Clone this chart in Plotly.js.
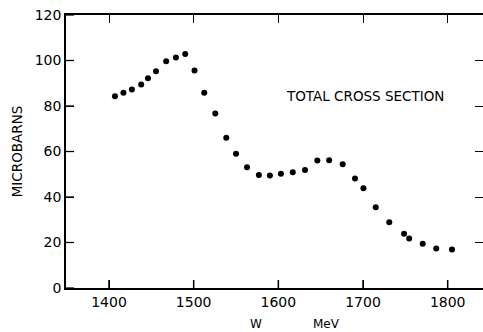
<!DOCTYPE html>
<html>
<head>
<meta charset="utf-8">
<script src="https://cdn.plot.ly/plotly-3.0.1.min.js"></script>
<style>html,body{margin:0;padding:0;background:#fff;}#chart{width:483px;height:332px;}</style>
</head>
<body>
<div id="chart"></div>
<script>
const energyMeV = [1407, 1417, 1427, 1438, 1446, 1455.5, 1467.5, 1479, 1490, 1501, 1512.5, 1525.5, 1538.5,
  1550, 1563, 1577, 1590, 1603, 1617, 1631.5, 1646, 1660, 1676, 1690.5, 1700.5, 1715, 1731, 1748.5, 1754.5, 1770.5, 1786.5, 1805];
const crossSection = [84.3, 85.8, 87.3, 89.4, 92.2, 95.3, 99.7, 101.3, 102.9, 95.6, 85.8, 76.7, 66,
  59, 53.1, 49.7, 49.4, 50.2, 50.9, 51.9, 56, 56.1, 54.4, 48.1, 43.8, 35.5, 28.9, 23.8, 21.8, 19.5, 17.4, 16.9];
const xTicks = [1400, 1500, 1600, 1700, 1800];
const yTicks = [0, 20, 40, 60, 80, 100, 120];

const fam = 'DejaVu Sans, Liberation Sans, sans-serif';
const pw = 483 - 66, ph = 332 - 15 - 44;
const yMax = 120;
const tickLenY = 8 * yMax / ph;

// bottom-axis inward tick marks, built from the tick array
const tickX = [], tickY = [];
xTicks.forEach(v => { tickX.push(v, v, null); tickY.push(0, tickLenY, null); });

const ticksTrace = {
  x: tickX, y: tickY, type: 'scatter', mode: 'lines',
  line: {color: '#000', width: 1.5}, hoverinfo: 'skip', cliponaxis: false, connectgaps: false
};
const trace = {
  x: energyMeV, y: crossSection, type: 'scatter', mode: 'markers',
  marker: {color: '#000', size: 6}, hoverinfo: 'skip'
};

const axisCommon = {
  showgrid: false, zeroline: false, showline: true, linecolor: '#000', linewidth: 1.5,
  mirror: 'ticks', ticks: 'inside', ticklen: 8, tickwidth: 1.3, tickcolor: '#000',
  tickfont: {family: fam, size: 14, color: '#000'}
};

const tickShapes = [];
yTicks.forEach(v => tickShapes.push({type: 'line', yref: 'y', xref: 'paper', xsizemode: 'pixel', xanchor: 0,
  y0: v, y1: v, x0: 0, x1: 8, line: {color: '#000', width: 1.3}}));

const layout = {
  width: 483, height: 332,
  margin: {l: 66, r: 0, t: 15, b: 44},
  paper_bgcolor: '#fff', plot_bgcolor: '#fff',
  showlegend: false,
  font: {family: fam, color: '#000', size: 13},
  xaxis: Object.assign({}, axisCommon, {
    range: [1349.2, 1841.7], tickvals: xTicks
  }),
  yaxis: Object.assign({}, axisCommon, {
    range: [0, yMax], tickvals: yTicks,
    title: {text: 'MICROBARNS', font: {family: fam, size: 13.5, color: '#000'}, standoff: 9}
  }),
  shapes: tickShapes,
  annotations: [
    {text: 'TOTAL CROSS SECTION', x: 1702, y: 84.6, xref: 'x', yref: 'y', showarrow: false,
     xanchor: 'center', yanchor: 'middle',
     font: {family: fam, size: 13.5, color: '#000'}},
    {text: 'W', x: (256 - 66) / pw, y: (288 - 324) / ph, xref: 'paper', yref: 'paper', showarrow: false,
     xanchor: 'center', yanchor: 'middle',
     font: {family: fam, size: 12, color: '#000'}},
    {text: 'MeV', x: (326 - 66) / pw, y: (288 - 324) / ph, xref: 'paper', yref: 'paper', showarrow: false,
     xanchor: 'center', yanchor: 'middle',
     font: {family: fam, size: 12, color: '#000'}}
  ]
};

Plotly.newPlot('chart', [ticksTrace, trace], layout, {displayModeBar: false});
</script>
</body>
</html>
